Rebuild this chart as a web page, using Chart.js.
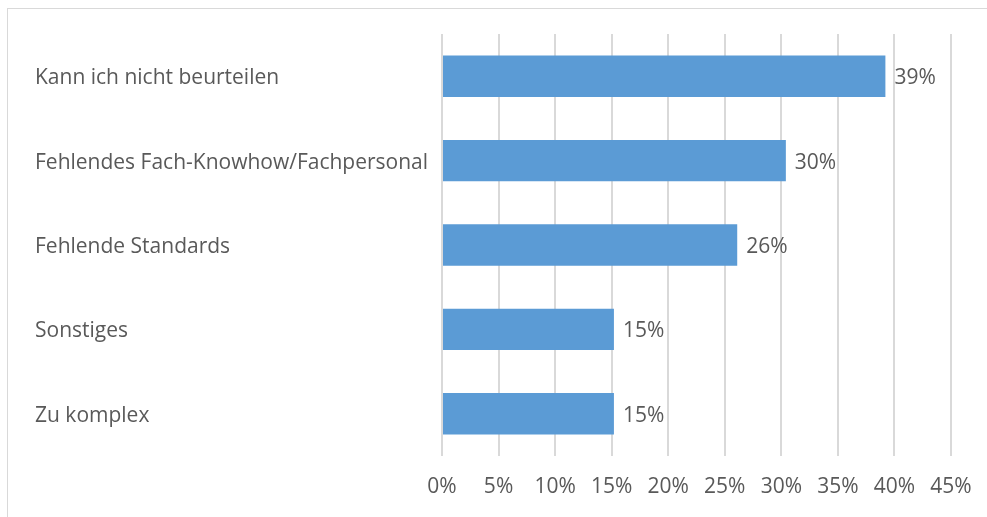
<!DOCTYPE html>
<html>
<head>
<meta charset="utf-8">
<script src="https://cdn.jsdelivr.net/npm/chart.js@4"></script>
<style>
  html, body { margin: 0; padding: 0; background: #fff; }
  #wrap { position: relative; width: 987px; height: 517px; }
  #frame { position: absolute; left: 7px; top: 8px; right: -2px; bottom: -2px; border-left: 1px solid #d9d9d9; border-top: 1px solid #d9d9d9; }
  canvas { position: absolute; left: 0; top: 0; }
</style>
</head>
<body>
<div id="wrap">
  <div id="frame"></div>
  <canvas id="c" width="987" height="517"></canvas>
</div>
<script>
const categories = [
  "Kann ich nicht beurteilen",
  "Fehlendes Fach-Knowhow/Fachpersonal",
  "Fehlende Standards",
  "Sonstiges",
  "Zu komplex"
];
const shareValues = [39.2, 30.4, 26.1, 15.2, 15.2];
const xTickMax = 45;
const xTickStep = 5;

const FONT = "'Open Sans', 'Noto Sans', sans-serif";
const TEXT = '#595959';
const FSIZE = 21;

const valueLabels = {
  id: 'valueLabels',
  afterDatasetsDraw(chart) {
    const ctx = chart.ctx;
    const meta = chart.getDatasetMeta(0);
    ctx.save();
    ctx.font = FSIZE + 'px ' + FONT;
    ctx.fillStyle = TEXT;
    ctx.textAlign = 'left';
    ctx.textBaseline = 'middle';
    meta.data.forEach((bar, i) => {
      ctx.fillText(Math.round(shareValues[i]) + '%', bar.x + 9, bar.y + 2);
    });
    ctx.restore();
  }
};

new Chart(document.getElementById('c'), {
  type: 'bar',
  data: {
    labels: categories,
    datasets: [{
      data: shareValues,
      backgroundColor: '#5b9bd5',
      borderWidth: 0,
      categoryPercentage: 1,
      barPercentage: 0.49
    }]
  },
  options: {
    indexAxis: 'y',
    responsive: false,
    animation: false,
    devicePixelRatio: 1,
    layout: { padding: { left: 35, top: 34, right: 36, bottom: 0 } },
    plugins: { legend: { display: false }, tooltip: { enabled: false } },
    scales: {
      x: {
        min: 0, max: xTickMax,
        grid: { color: '#d9d9d9', lineWidth: 2, drawTicks: false },
        border: { display: false },
        ticks: {
          stepSize: xTickStep,
          padding: 18,
          color: TEXT,
          font: { family: FONT, size: FSIZE },
          callback: v => v + '%'
        },
        afterFit(scale) { scale.height = 61; scale.paddingLeft = 0; scale.paddingRight = 0; }
      },
      y: {
        grid: { display: false, drawTicks: false },
        border: { display: false },
        ticks: {
          crossAlign: 'far',
          labelOffset: 2,
          color: TEXT,
          font: { family: FONT, size: FSIZE }
        },
        afterFit(scale) { scale.width = 407; }
      }
    }
  },
  plugins: [valueLabels]
});
</script>
</body>
</html>
